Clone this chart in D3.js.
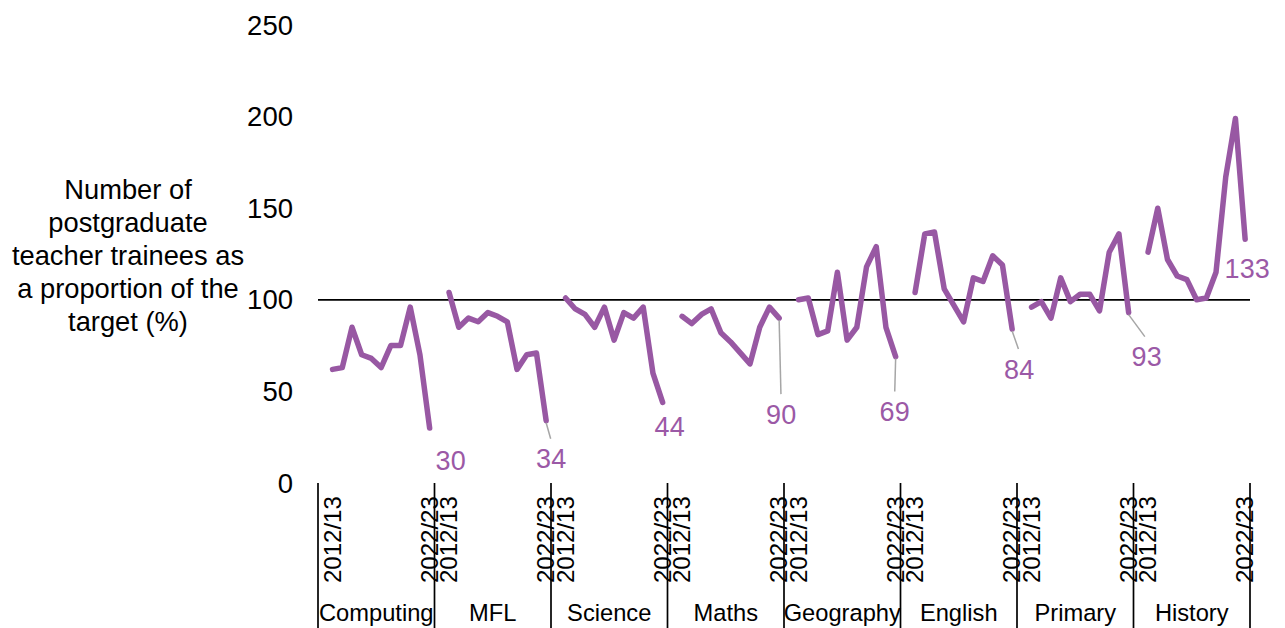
<!DOCTYPE html>
<html><head><meta charset="utf-8">
<script src="https://cdn.jsdelivr.net/npm/d3@7"></script>
<style>body{margin:0;background:#fff;font-family:"Liberation Sans",Arial,sans-serif;}</style>
</head><body><svg id="c" width="1285" height="628"></svg>
<script>
const groups = ["Computing","MFL","Science","Maths","Geography","English","Primary","History"];
const years = ["2012/13","2013/14","2014/15","2015/16","2016/17","2017/18","2018/19","2019/20","2020/21","2021/22","2022/23"];
const computing = [62,63,85,70,68,63,75,75,96,70,30];
const mfl = [104,85,90,88,93,91,88,62,70,71,34];
const science = [101,95,92,85,96,78,93,90,96,60,44];
const maths = [91,87,92,95,82,77,71,65,85,96,90];
const geography = [100,101,81,83,115,78,85,118,129,85,69];
const english = [104,136,137,106,97,88,112,110,124,119,84];
const primary = [96,99,90,112,99,103,103,94,126,136,93];
const history = [126,150,122,113,111,100,101,115,167,199,133];
const yTicks = [0,50,100,150,200,250];
const target = 100;
const titleLines = ["Number of","postgraduate","teacher trainees as","a proportion of the","target (%)"];

const series = [computing,mfl,science,maths,geography,english,primary,history];
// label offsets (layout only): [dx, dy, leader]
const labelPos = [[21,33,false],[5,38,true],[7,24,false],[2,96,true],[-1,55,true],[7,40,true],[18,44,true],[2,29,false]];

const svg = d3.select("#c");
const L=318, R=1250, T=25, B=483;
const y = d3.scaleLinear().domain([0,250]).range([B,T]);
const gx = d3.scaleBand().domain(groups).range([L,R]).padding(0);
const ix = d3.scaleLinear().domain([-1.5,10.5]).range([0,gx.bandwidth()]);
const px = (g,i)=>gx(g)+ix(i);
const col = "#9858a3";

// y tick labels
svg.append("g").selectAll("text").data(yTicks).join("text")
  .attr("x",293).attr("y",d=>y(d)).attr("dy","0.35em")
  .attr("text-anchor","end").attr("font-size",27.5).attr("fill","#000").text(d=>d);

// title
svg.append("g").selectAll("text").data(titleLines).join("text")
  .attr("x",128).attr("y",(d,i)=>199+i*33).attr("text-anchor","middle")
  .attr("font-size",27.3).attr("fill","#000").text(d=>d);

// target line
svg.append("line").attr("x1",L).attr("x2",R).attr("y1",y(target)).attr("y2",y(target))
  .attr("stroke","#000").attr("stroke-width",1.7);

// separators
const bounds = groups.map(g=>gx(g)).concat([R]);
svg.append("g").selectAll("line").data(bounds).join("line")
  .attr("x1",d=>d).attr("x2",d=>d).attr("y1",B).attr("y2",628)
  .attr("stroke","#000").attr("stroke-width",1.7);

// year labels (first and last)
const yl = [];
groups.forEach(g=>{ yl.push({g,i:0,t:years[0]}); yl.push({g,i:10,t:years[10]}); });
svg.append("g").selectAll("text").data(yl).join("text")
  .attr("transform",d=>`translate(${px(d.g,d.i)+8},583) rotate(-90)`)
  .attr("font-size",24).attr("fill","#000").text(d=>d.t);

// group labels
svg.append("g").selectAll("text").data(groups).join("text")
  .attr("x",d=>gx(d)+gx.bandwidth()/2).attr("y",621).attr("text-anchor","middle")
  .attr("font-size",23.7).attr("fill","#000").text(d=>d);

// lines
const line = d3.line().x(d=>px(d.g,d.i)).y(d=>y(d.v));
series.forEach((s,k)=>{
  const g = groups[k];
  const pts = s.map((v,i)=>({g,i,v}));
  svg.append("path").datum(pts).attr("d",line).attr("fill","none")
    .attr("stroke",col).attr("stroke-width",5.5).attr("stroke-linejoin","round").attr("stroke-linecap","round");
  const last = pts[10];
  const lx = px(g,10), ly = y(last.v);
  const [dx,dy,leader] = labelPos[k];
  if(leader){
    svg.append("line").attr("x1",lx).attr("y1",ly+2).attr("x2",lx+dx*0.9).attr("y2",ly+dy-20)
      .attr("stroke","#a6a6a6").attr("stroke-width",1.5);
  }
  svg.append("text").attr("x",lx+dx).attr("y",ly+dy).attr("dy","0.35em").attr("text-anchor","middle")
    .attr("font-size",27).attr("fill","#9b59a6").text(last.v);
});
</script></body></html>
